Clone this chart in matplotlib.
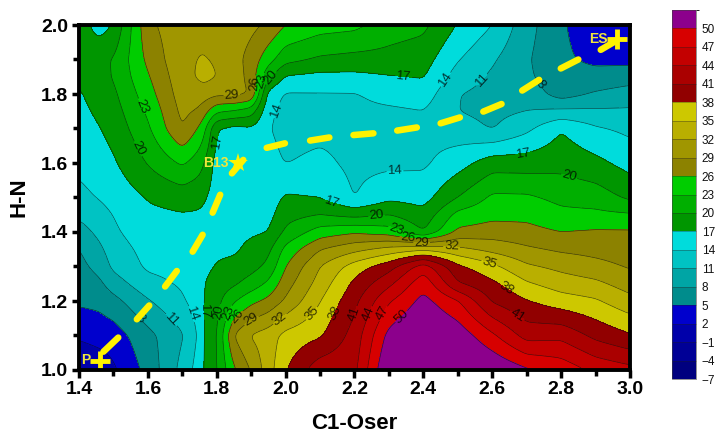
import numpy as np
import matplotlib
matplotlib.use("Agg")
import matplotlib.pyplot as plt
from matplotlib.colors import ListedColormap, BoundaryNorm

plt.rcParams['font.family'] = ['Liberation Sans', 'DejaVu Sans']

# --- data -----------------------------------------------------------------
h_n = [1.0, 1.1, 1.2, 1.25, 1.3, 1.35, 1.4, 1.45, 1.5, 1.6, 1.7, 1.75, 1.8, 1.85, 1.9, 2.0]
c1_oser = [1.40, 1.46, 1.50, 1.60, 1.70, 1.75, 1.76, 1.80, 1.85, 1.90, 1.95, 2.00,
           2.10, 2.20, 2.30, 2.40, 2.50, 2.60, 2.70, 2.80, 2.90, 3.00]

z_140 = [-1, 2.5, 5.5, 6.3, 7.1, 7.9, 9.7, 11.6, 13.2, 14.7, 15.7, 16.2, 16.7, 17.5, 18, 18.5]
z_146 = [0, 3.2, 5.8, 7.4, 9, 10.4, 11.8, 13, 14.2, 15.7, 16.9, 17.6, 18.3, 18.9, 19.2, 15.7]
z_150 = [1.5, 3.5, 7, 9.5, 11.7, 12.6, 13.5, 14.1, 15, 16.6, 18, 18.7, 19.4, 20.2, 20.2, 17.2]
z_160 = [6, 7.1, 10.7, 13, 14.5, 15, 15.8, 16.4, 17.2, 20.2, 22.5, 23.5, 24.7, 25.7, 26.7, 28.3]
z_170 = [12, 10.7, 13.6, 14.4, 15, 15.5, 16, 16.8, 18.2, 23.5, 29.1, 29.8, 30.5, 31, 31.4, 31]
z_175 = [15.5, 14.5, 15.5, 15.8, 15.9, 16, 16.2, 16.7, 17.7, 21.3, 25.5, 28.5, 30.6, 32.4, 32.1, 31.3]
z_176 = [17, 17, 17, 16.8, 16.2, 16, 16, 16.5, 17.5, 20.4, 24.5, 27.5, 30.6, 33, 32.2, 31.3]
z_180 = [19.8, 19.8, 19, 18.3, 17.2, 16.4, 16, 15.8, 15.6, 15.7, 17, 23.5, 29.7, 32, 31.7, 30.7]
z_185 = [25.6, 29.2, 22.7, 19.5, 18, 16.4, 16, 15.8, 15.6, 15.7, 16, 22.7, 30, 30.7, 30.2, 30.5]
z_190 = [29.2, 32.3, 25.2, 21.3, 18.9, 18, 16.5, 16, 15.7, 15.4, 16.5, 21.5, 28.9, 27.8, 27.8, 29.8]
z_195 = [33.7, 33.5, 26.8, 23.6, 20.7, 19.2, 17, 16, 15.4, 15, 14.2, 14.7, 15.8, 20.7, 24.2, 28.5]
z_200 = [37.8, 36, 29.5, 27.7, 26, 23.9, 20.6, 18.9, 17.4, 13.9, 13, 13, 13.7, 16.7, 21, 26]
z_210 = [43, 37.6, 34.9, 33.3, 32, 28.9, 24.4, 20, 16.9, 14.7, 13.2, 13, 13.8, 16.1, 19.5, 24.3]
z_220 = [43.2, 42.2, 40.2, 38.7, 36.4, 31.1, 25.6, 19, 13.9, 13.3, 13.2, 13.4, 13.8, 16.2, 19, 23.8]
z_230 = [53.4, 51, 46.7, 43.3, 39.8, 33.1, 24.5, 20, 16.3, 13.3, 13, 13.5, 15, 16.8, 19, 21.5]
z_240 = [58, 54, 51, 49.1, 45.7, 34.5, 20, 18, 15.8, 13.5, 13.2, 13.9, 15.6, 17.2, 18.3, 20.7]
z_250 = [55, 52, 47.3, 41.3, 38.7, 32.8, 26.7, 24, 20, 15.7, 12.3, 11, 11.1, 12.7, 14.2, 16.8]
z_260 = [53, 47.6, 40.7, 38.7, 35.8, 31.1, 27.4, 25.2, 23.6, 18.6, 10.8, 10.2, 10, 10.5, 11.4, 14]
z_270 = [50.5, 42.8, 38.2, 35.4, 32.5, 29.5, 27, 25.2, 23.5, 18.5, 13.3, 11, 9.8, 8.6, 8.4, 9.2]
z_280 = [49, 43.2, 36.4, 33.6, 31.2, 28.5, 26, 23.8, 22.2, 19, 16.8, 11.7, 6.6, 5.9, 5.4, 5.3]
z_290 = [46.3, 40.2, 35.4, 32.7, 30, 28, 26.4, 23.7, 21.6, 17.8, 14.4, 11.5, 8.4, 5.8, 4.5, 3.5]
z_300 = [45, 38.3, 33, 30.6, 28.7, 27.5, 26.4, 23.4, 19.4, 15.9, 13.3, 11.4, 9.5, 6.5, 4.2, 3]

levels = list(range(-7, 51, 3)) + [70]
colorbar_ticks = list(range(-7, 51, 3))
band_colors = ['#00007f', '#000096', '#0000aa', '#0000cd',
               '#008c8c', '#00a5a5', '#00c3c3', '#00dcdc',
               '#009600', '#00af00', '#00cd00',
               '#8c8200', '#a09600', '#b9af00', '#cdc800',
               '#910000', '#aa0000', '#c30000', '#d70000',
               '#8c008c']

# Reaction path drawn as separate yellow dashes (start x, start y, end x, end y)
path_x0 = [1.471, 1.568, 1.650, 1.730, 1.788, 1.844, 1.945, 2.071, 2.197, 2.324, 2.450, 2.574, 2.687, 2.799, 2.915]
path_y0 = [1.053, 1.147, 1.242, 1.343, 1.456, 1.570, 1.644, 1.665, 1.681, 1.694, 1.715, 1.749, 1.810, 1.874, 1.928]
path_x1 = [1.514, 1.604, 1.684, 1.759, 1.810, 1.877, 1.998, 2.127, 2.255, 2.381, 2.506, 2.627, 2.736, 2.850, 2.961]
path_y1 = [1.094, 1.187, 1.287, 1.392, 1.508, 1.609, 1.657, 1.674, 1.686, 1.703, 1.732, 1.771, 1.841, 1.900, 1.955]

# Contour-label anchor positions per level
label_spots = {
    8: [(1.568, 1.14), (2.724, 1.82)],
    11: [(1.679, 1.155), (2.565, 1.845)],
    14: [(1.722, 1.16), (1.972, 1.754), (2.318, 1.546), (2.468, 1.84)],
    17: [(1.761, 1.17), (1.80, 1.662), (2.134, 1.488), (2.342, 1.84), (2.69, 1.638)],
    20: [(1.793, 1.17), (1.572, 1.642), (1.96, 1.845), (2.264, 1.45), (2.82, 1.55)],
    23: [(1.82, 1.17), (1.572, 1.76), (1.935, 1.836), (2.325, 1.418)],
    26: [(1.853, 1.16), (1.908, 1.83), (2.356, 1.392)],
    29: [(1.897, 1.15), (1.844, 1.795), (2.395, 1.377)],
    32: [(1.986, 1.145), (2.482, 1.363)],
    35: [(2.086, 1.155), (2.594, 1.317)],
    38: [(2.144, 1.165), (2.649, 1.247)],
    41: [(2.192, 1.165), (2.683, 1.174)],
    44: [(2.235, 1.165)],
    47: [(2.279, 1.166)],
    50: [(2.327, 1.165)],
}

Z = np.column_stack([z_140, z_146, z_150, z_160, z_170, z_175, z_176, z_180, z_185, z_190, z_195,
                     z_200, z_210, z_220, z_230, z_240, z_250, z_260, z_270, z_280, z_290, z_300])


def smooth_surface(x, y, z, step=0.004, sigma=0.009):
    """Resample the read values on a fine mesh and soften the facets for drawing."""
    xf = np.arange(x[0], x[-1] + step / 2, step)
    yf = np.arange(y[0], y[-1] + step / 2, step)
    a = np.array([np.interp(xf, x, row) for row in z])
    a = np.array([np.interp(yf, y, col) for col in a.T]).T
    r = int(3 * sigma / step)
    t = np.arange(-r, r + 1) * step
    k = np.exp(-0.5 * (t / sigma) ** 2)
    k /= k.sum()
    p = np.pad(a, r, mode='edge')
    p = np.apply_along_axis(lambda v: np.convolve(v, k, mode='same'), 0, p)
    p = np.apply_along_axis(lambda v: np.convolve(v, k, mode='same'), 1, p)
    return xf, yf, p[r:-r, r:-r]


xf, yf, Zf = smooth_surface(c1_oser, h_n, Z)

# --- figure ---------------------------------------------------------------
W, H = 716, 434
fig = plt.figure(figsize=(W / 100, H / 100), dpi=100, facecolor='white')
ax = fig.add_axes([79 / W, (H - 370) / H, 551 / W, 345 / H])

cmap = ListedColormap(band_colors)
norm = BoundaryNorm(levels, cmap.N)
cf = ax.contourf(xf, yf, Zf, levels=levels, cmap=cmap, norm=norm)

ax.set_xlim(1.4, 3.0)
ax.set_ylim(1.0, 2.0)

for lev in levels[:-1]:
    cs = ax.contour(xf, yf, Zf, levels=[lev], colors='#101010', linewidths=0.45, alpha=0.75)
    if lev in label_spots:
        ax.clabel(cs, manual=label_spots[lev], fmt='%d', fontsize=9.5, colors='k',
                  inline=True, inline_spacing=1)

for x0, y0, x1, y1 in zip(path_x0, path_y0, path_x1, path_y1):
    ax.plot([x0, x1], [y0, y1], color='#fff200', lw=4.7, solid_capstyle='round', zorder=5)

ax.plot([1.461], [1.027], marker='+', ms=14, mew=3.5, color='#fff200', zorder=6, clip_on=False)
ax.plot([2.961], [1.959], marker='+', ms=14, mew=3.5, color='#fff200', zorder=6)
ax.plot([1.863], [1.601], marker='*', ms=14.5, mew=0, color='#fff200', zorder=6)
ax.text(1.42, 1.029, 'P', color='#f0e63c', fontsize=10, fontweight='bold', ha='center', va='center', zorder=6)
ax.text(1.798, 1.600, 'B13', color='#f0e63c', fontsize=10, fontweight='bold', ha='center', va='center', zorder=6)
ax.text(2.908, 1.960, 'ES', color='#f0e63c', fontsize=10, fontweight='bold', ha='center', va='center', zorder=6)

ax.set_xlim(1.4, 3.0)
ax.set_ylim(1.0, 2.0)
ax.set_xticks(np.arange(1.4, 3.01, 0.2))
ax.set_yticks(np.arange(1.0, 2.01, 0.2))
ax.set_xticks(np.arange(1.5, 3.0, 0.2), minor=True)
ax.set_yticks(np.arange(1.1, 2.0, 0.2), minor=True)
ax.tick_params(which='major', length=5.4, width=2.5, direction='out', pad=2.5)
ax.tick_params(which='minor', length=4.2, width=2.5, direction='out')
for lab in ax.get_xticklabels() + ax.get_yticklabels():
    lab.set_fontsize(14)
    lab.set_fontweight('bold')
for s in ax.spines.values():
    s.set_linewidth(2.8)
    s.set_zorder(10)
fig.text(354 / W, 1 - 423.5 / H, 'C1-Oser', fontsize=16, fontweight='bold', ha='center', va='center')
fig.text(19 / W, 1 - 197 / H, 'H-N', fontsize=16, fontweight='bold', rotation=90, ha='center', va='center')

cax = fig.add_axes([672 / W, (H - 379) / H, 24 / W, 369 / H])
cb = fig.colorbar(cf, cax=cax, ticks=colorbar_ticks, spacing='uniform', drawedges=True)
cb.dividers.set_color('#202020')
cb.dividers.set_linewidth(0.4)
cb.dividers.set_alpha(0.6)
cb.outline.set_linewidth(0.4)
cb.outline.set_edgecolor('#404040')
cb.ax.tick_params(length=0, labelsize=8.5, pad=4, colors='#111111')

fig.savefig('out.png', dpi=100, facecolor='white')
